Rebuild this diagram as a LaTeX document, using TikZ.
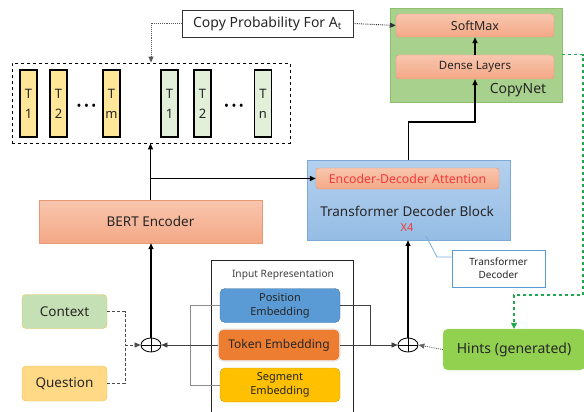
\documentclass[tikz,border=0pt]{standalone}
\usepackage{fontspec}
\setmainfont{Noto Sans}
\usetikzlibrary{arrows.meta,shapes.geometric,positioning,calc}

\definecolor{salmonA}{HTML}{F8C6AE}
\definecolor{salmonB}{HTML}{F4A886}
\definecolor{salmonEdge}{HTML}{E59A77}
\definecolor{netGreen}{HTML}{A9D18E}
\definecolor{netEdge}{HTML}{8DBF6F}
\definecolor{decA}{HTML}{B4D0EE}
\definecolor{decB}{HTML}{95BDE5}
\definecolor{decEdge}{HTML}{7EA9D6}
\definecolor{tokYellow}{HTML}{FFE699}
\definecolor{tokGreen}{HTML}{E2F0D9}
\definecolor{ctxGreen}{HTML}{C5E0B4}
\definecolor{qYellow}{HTML}{FFD985}
\definecolor{inEdge}{HTML}{E8C54A}
\definecolor{posBlue}{HTML}{5B9BD5}
\definecolor{posEdge}{HTML}{41719C}
\definecolor{tokOrange}{HTML}{ED7D31}
\definecolor{segGold}{HTML}{FFC000}
\definecolor{segEdge}{HTML}{C9A000}
\definecolor{hintGreen}{HTML}{92D050}
\definecolor{attnRed}{HTML}{F23A3A}
\definecolor{calloutBlue}{HTML}{5B9BD5}
\definecolor{hintArrow}{HTML}{1FA84F}
\definecolor{txt}{HTML}{262626}

\newcommand{\tokdots}{\textbullet\kern2.5pt\textbullet\kern2.5pt\textbullet}

\tikzset{
  x=1pt, y=-1pt,
  every node/.style={inner sep=0pt, text=txt, align=center},
  tip/.style={-{Triangle[length=6pt,width=5pt]}},
  salmonbox/.style={draw=salmonEdge, top color=salmonA, bottom color=salmonB, rounded corners=3pt},
  tokbox/.style={draw=black, line width=1.3pt, minimum width=17pt, minimum height=67pt, font=\fontsize{13}{20}\selectfont},
  dotrow/.style={font=\fontsize{13}{13}\selectfont, text=black},
  inbox/.style={draw=inEdge, rounded corners=4pt, minimum width=85pt, minimum height=34pt, font=\fontsize{13.5}{15}\selectfont},
  embbox/.style={rounded corners=5pt, minimum width=120pt, minimum height=34pt, font=\fontsize{11}{14}\selectfont},
  oplus/.style={draw=black, ellipse, minimum width=20pt, minimum height=14pt, thick,
    path picture={\draw[thick] (path picture bounding box.north) -- (path picture bounding box.south)
      (path picture bounding box.west) -- (path picture bounding box.east);}},
  flow/.style={line width=1.4pt, tip},
  thin link/.style={draw=black!75, line width=0.6pt},
  gray link/.style={draw=black!45, line width=1pt},
}

\begin{document}
\begin{tikzpicture}
\useasboundingbox (0,0) rectangle (584,412);

% ---------- output tokens ----------
\node[draw, dashed, thick, minimum width=278pt, minimum height=80pt] (tokens) at (151,103) {};
\node[tokbox, fill=tokYellow] (a1) at (28.5,103.5) {T\\1};
\node[tokbox, fill=tokYellow] (a2) at (58.5,103.5) {T\\2};
\node[dotrow] (adots) at (86.5,107) {\tokdots};
\node[tokbox, fill=tokYellow] (am) at (111.5,103.5) {T\\m};
\node[tokbox, fill=tokGreen] (b1) at (169.5,103.5) {T\\1};
\node[tokbox, fill=tokGreen] (b2) at (202.5,103.5) {T\\2};
\node[dotrow] (bdots) at (234,107) {\tokdots};
\node[tokbox, fill=tokGreen] (bn) at (263,103.5) {T\\n};

% ---------- copy probability ----------
\node[draw=black!80, thick, minimum width=171pt, minimum height=27pt, font=\fontsize{14}{16}\selectfont]
  (copyp) at (267.5,23.5) {Copy Probability For A\textsubscript{t}};

% ---------- CopyNet ----------
\node[draw=netEdge, fill=netGreen, minimum width=172pt, minimum height=94pt] (copynet) at (476,55) {};
\node[salmonbox, minimum width=158pt, minimum height=23pt, font=\fontsize{12.5}{14}\selectfont] (softmax) at (475,25.5) {SoftMax};
\node[salmonbox, minimum width=158pt, minimum height=24pt, font=\fontsize{11.5}{13}\selectfont] (dense) at (475,67) {Dense Layers};
\node[font=\fontsize{14}{16}\selectfont] (cnlabel) at (518,90) {CopyNet};

% ---------- BERT encoder ----------
\node[draw=salmonEdge, top color=salmonA, bottom color=salmonB, minimum width=223pt, minimum height=43pt,
  font=\fontsize{13.5}{16}\selectfont] (bert) at (150.5,221.5) {BERT Encoder};

% ---------- Transformer decoder ----------
\node[draw=decEdge, top color=decA, bottom color=decB, minimum width=203pt, minimum height=80pt] (dec) at (408.5,200) {};
\node[salmonbox, minimum width=183pt, minimum height=21pt, text=attnRed, font=\fontsize{12.3}{14}\selectfont]
  (eda) at (407.5,178.5) {Encoder-Decoder Attention};
\node[font=\fontsize{13.5}{16}\selectfont] (declabel) at (407,211) {Transformer Decoder Block};
\node[text=attnRed, font=\fontsize{11}{12}\selectfont] (x4) at (407,228) {X4};

% callout
\node[draw=calloutBlue, fill=white, line width=0.9pt, minimum width=93pt, minimum height=37pt,
  font=\fontsize{10}{13}\selectfont] (callout) at (498.5,268.5) {Transformer\\Decoder};
\coordinate (cstart) at (426,236);
\draw[calloutBlue!80, line width=0.8pt] (cstart) -- (437,257) -- (callout.west |- 437,257);

% ---------- input representation ----------
\node[draw=black!85, thick, minimum width=142pt, minimum height=160pt] (inrep) at (282,340) {};
\node[font=\fontsize{10.2}{12}\selectfont, text=black!75] (inlabel) at (283,275) {Input Representation};
\node[embbox, draw=posEdge, fill=posBlue] (pos) at (280,305.5) {Position\\Embedding};
\node[embbox, draw=white, double=black!15, fill=tokOrange, minimum width=122pt, minimum height=32pt,
  font=\fontsize{12}{14}\selectfont] (tok) at (279,345) {Token Embedding};
\node[embbox, draw=segEdge, fill=segGold] (seg) at (280,385) {Segment\\Embedding};

% ---------- inputs ----------
\node[inbox, fill=ctxGreen] (ctx) at (64.5,311.5) {Context};
\node[inbox, fill=qYellow, minimum height=35pt] (q) at (64.5,383.5) {Question};
\node[draw=hintGreen!80!white, fill=hintGreen, rounded corners=5pt, minimum width=142pt, minimum height=41pt,
  font=\fontsize{14}{16}\selectfont] (hints) at (514,349.5) {Hints (generated)};

% ---------- sum nodes ----------
\node[oplus] (sumL) at (151,345) {};
\node[oplus] (sumR) at (408,345) {};

% ---------- connectors ----------
\draw[flow] (sumL) -- (bert.south -| sumL);
\draw[flow] (bert.north) -- (tokens.south -| bert.north);
\draw[flow] (bert.north |- eda.west) -- (eda.west);
\draw[flow] (dec.north) -- ++(0,-38) -| (dense.south);
\draw[flow] (dense.north) -- (softmax.south);
\draw[flow] (sumR) -- (dec.south -| sumR);

\draw[densely dotted, black!65, line width=0.9pt, tip] (copyp.west) -| (tokens.north);
\draw[densely dotted, black!80, line width=0.9pt, tip] (copyp.east) -- (softmax.west);

\coordinate (gturn) at (583,295);
\draw[dashed, hintArrow, line width=1.2pt, -{Triangle[length=6pt,width=6pt]}]
  (copynet.east |- dense.north) -| (gturn) -| (hints.north);

\coordinate (ctxturn) at (125,345);
\draw[densely dashed, black!70, line width=0.7pt] (ctx.east) -| (ctxturn);
\draw[densely dashed, black!70, line width=0.7pt] (q.east) -| (ctxturn);
\draw[densely dashed, black!70, line width=0.7pt, tip] (ctxturn) -- (sumL.west);

\draw[gray link] (pos.west) -- ++(-29,0) |- (seg.west);
\draw[thin link, tip] (tok.west) -- (sumL.east);
\draw[thin link] (pos.east) -| (370,345);
\draw[thin link, tip] (tok.east) -- (sumR.west);
\draw[densely dotted, black!60, line width=0.9pt, tip] (hints.west) -- (sumR.east);
\end{tikzpicture}
\end{document}
